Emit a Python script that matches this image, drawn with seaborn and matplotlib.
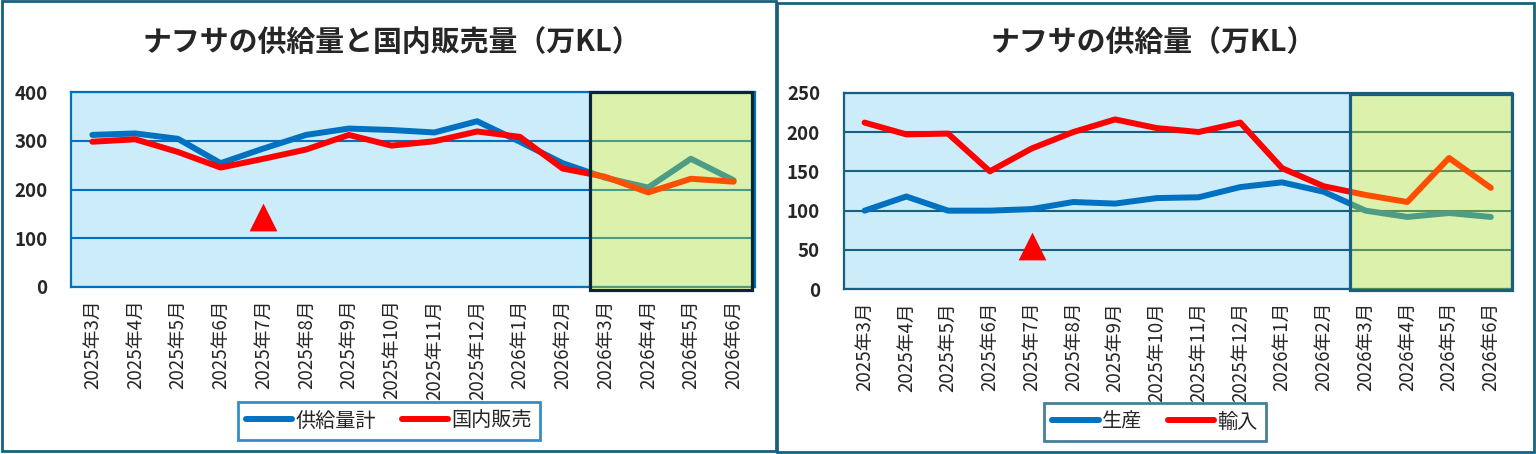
import matplotlib
matplotlib.use('Agg')
import matplotlib.pyplot as plt
from matplotlib.patches import Rectangle
import seaborn as sns
import pandas as pd

# monthly values (unit: 万KL)
months = ['2025年3月', '2025年4月', '2025年5月', '2025年6月', '2025年7月', '2025年8月',
          '2025年9月', '2025年10月', '2025年11月', '2025年12月', '2026年1月', '2026年2月',
          '2026年3月', '2026年4月', '2026年5月', '2026年6月']
supply_total = [312, 315, 304, 254, 284, 312, 325, 322, 317, 340, 298, 254, 224, 204, 263, 219]
domestic_sales = [298, 303, 277, 245, 263, 282, 312, 290, 299, 319, 308, 243, 226, 194, 222, 216]
production = [100, 118, 100, 100, 102, 111, 109, 116, 117, 130, 136, 124, 100, 92, 97, 92]
imports = [212, 197, 198, 150, 179, 200, 216, 205, 200, 212, 154, 131, 120, 111, 167, 129]

# forecast months (shaded box) and the red triangle note
forecast_months = ['2026年3月', '2026年4月', '2026年5月', '2026年6月']
note_month = '2025年7月'
note_value_left = 144
note_value_right = 55

BLUE = '#0070C0'
RED = '#FF0000'
PANEL_EDGE = '#17607F'
PLOT_BG = '#CCECFA'

sns.set_style('white')
plt.rcParams['font.family'] = ['Noto Sans CJK JP', 'DejaVu Sans']

fig = plt.figure(figsize=(15.36, 4.54), dpi=100)
fig.patch.set_facecolor('white')

# panel frames
fig.add_artist(Rectangle((0.001, 0.006), 0.504, 0.991, transform=fig.transFigure,
                         fill=False, edgecolor=PANEL_EDGE, linewidth=2))
fig.add_artist(Rectangle((0.506, 0.004), 0.493, 0.989, transform=fig.transFigure,
                         fill=False, edgecolor=PANEL_EDGE, linewidth=2))


def draw_panel(ax, names, values, colors, ymax, ystep, axis_color, box_edge, box_y, note_value):
    pos = list(range(len(months)))
    frames = []
    for name, vals in zip(names, values):
        frames.append(pd.DataFrame({'pos': pos, 'value': vals, 'series': name}))
    df = pd.concat(frames, ignore_index=True)

    ax.set_facecolor(PLOT_BG)
    sns.lineplot(data=df, x='pos', y='value', hue='series', palette=dict(zip(names, colors)),
                 linewidth=4.3, ax=ax, legend=False, sort=False,
                 solid_capstyle='round', solid_joinstyle='round', zorder=3)

    ax.set_xlim(-0.5, len(months) - 0.5)
    ax.set_ylim(0, ymax)
    ax.set_xlabel('')
    ax.set_ylabel('')

    # x: tick marks on category borders, labels in the middle
    ax.set_xticks([p - 0.5 for p in range(len(months) + 1)])
    ax.set_xticklabels([])
    ax.set_xticks(pos, minor=True)
    ax.set_xticklabels(months, minor=True, rotation=90, fontsize=13.5)
    ax.tick_params(axis='x', which='major', length=5, width=2, color=axis_color, direction='out')
    ax.tick_params(axis='x', which='minor', length=0, pad=9)

    yt = list(range(0, ymax + 1, ystep))
    ax.set_yticks(yt)
    ax.set_yticklabels([str(v) for v in yt], fontsize=13.5, fontweight='bold')
    ax.tick_params(axis='y', length=0, pad=17)

    ax.grid(axis='y', color=axis_color, linewidth=1.5)
    ax.grid(axis='x', visible=False)
    ax.set_axisbelow(True)
    for sp in ax.spines.values():
        sp.set_visible(True)
        sp.set_color(axis_color)
        sp.set_linewidth(1.6)

    # red triangle note
    ax.scatter([months.index(note_month)], [note_value], marker='^', s=400,
               color=RED, linewidths=0, zorder=4)

    # forecast box: translucent yellow layer over lines, then frame
    x0 = months.index(forecast_months[0]) - 0.37
    x1 = months.index(forecast_months[-1]) + box_y[2]
    ax.add_patch(Rectangle((x0, box_y[0]), x1 - x0, box_y[1] - box_y[0], facecolor='#FFFF00',
                           alpha=0.31, edgecolor='none', zorder=5, clip_on=False))
    ax.add_patch(Rectangle((x0, box_y[0]), x1 - x0, box_y[1] - box_y[0], fill=False,
                           edgecolor=box_edge, linewidth=2.3, zorder=6, clip_on=False))

    leg = ax.legend(handles=ax.lines[:len(names)], labels=names, ncol=2, fontsize=14.5,
                    loc='center', bbox_transform=fig.transFigure, frameon=True,
                    fancybox=False, handlelength=2.3, handletextpad=0.15,
                    columnspacing=1.3, borderpad=0.4)
    leg.get_frame().set_edgecolor(axis_color)
    leg.get_frame().set_linewidth(2)
    return leg


ax1 = fig.add_axes([71 / 1536, 1 - 287 / 454, 684 / 1536, 195 / 454])
leg1 = draw_panel(ax1, ['供給量計', '国内販売'], [supply_total, domestic_sales], [BLUE, RED],
                  400, 100, BLUE, '#0A2535', (-6, 401, 0.43), note_value_left)
leg1.set_bbox_to_anchor((389 / 1536, 1 - 421 / 454), transform=fig.transFigure)

ax2 = fig.add_axes([843.7 / 1536, 1 - 289.3 / 454, 668 / 1536, 196.6 / 454])
leg2 = draw_panel(ax2, ['生産', '輸入'], [production, imports], [BLUE, RED],
                  250, 50, PANEL_EDGE, PANEL_EDGE, (-1.5, 248.5, 0.5), note_value_right)
leg2.set_bbox_to_anchor((1155 / 1536, 1 - 422 / 454), transform=fig.transFigure)

fig.text(392 / 1536, 1 - 42 / 454, 'ナフサの供給量と国内販売量（万KL）', ha='center', va='center',
         fontsize=20.8, fontweight='bold')
fig.text(1153 / 1536, 1 - 42 / 454, 'ナフサの供給量（万KL）', ha='center', va='center',
         fontsize=20.8, fontweight='bold')

fig.savefig('out.png', dpi=100, facecolor='white')
